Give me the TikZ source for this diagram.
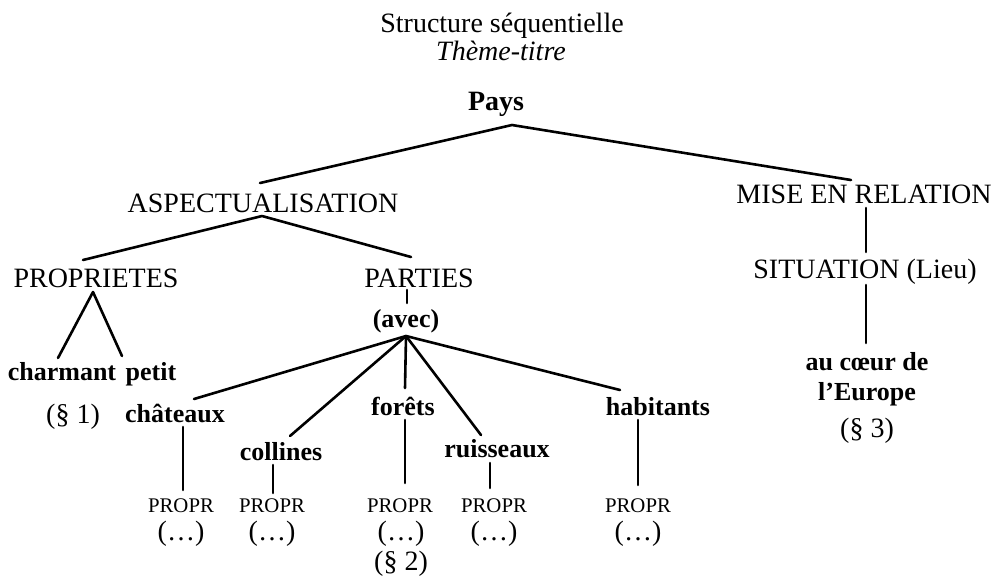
\documentclass[tikz,border=0pt]{standalone}
\usepackage{fontspec}
\setmainfont{Liberation Serif}
\begin{document}
\begin{tikzpicture}[x=0.5pt,y=-0.5pt,
  lbl/.style={anchor=base,inner sep=0pt,font=\fontsize{14}{16}\selectfont},
  bld/.style={anchor=base,inner sep=0pt,font=\fontsize{13}{15}\selectfont\bfseries},
  small/.style={anchor=base,inner sep=0pt,font=\fontsize{10.4}{12}\selectfont},
  edge/.style={line width=1.3pt,line cap=round,line join=round}]
\useasboundingbox (0,0) rectangle (1000,575);
% titles
\node[lbl] (title) at (502,32) {Structure séquentielle};
\node[lbl,font=\fontsize{14}{16}\selectfont\itshape] (theme) at (501,60) {Thème-titre};
\node[bld,font=\fontsize{14}{16}\selectfont\bfseries] (pays) at (496,110) {Pays};
% level 1
\node[lbl] (aspect) at (263,212) {ASPECTUALISATION};
\node[lbl] (mise) at (864,203) {MISE EN RELATION};
% level 2
\node[lbl] (propri) at (96,287) {PROPRIETES};
\node[lbl] (parties) at (419,287) {PARTIES};
\node[bld] (avec) at (406,327) {(avec)};
\node[lbl] (situation) at (865,278) {SITUATION (Lieu)};
% properties
\node[bld] (charmant) at (62,380) {charmant};
\node[bld] (petit) at (151,380) {petit};
\node[lbl] (s1) at (73,423) {(§ 1)};
% parts
\node[bld] (chateaux) at (175,422) {châteaux};
\node[bld] (collines) at (281,460) {collines};
\node[bld] (forets) at (403,415) {forêts};
\node[bld] (ruisseaux) at (497,457) {ruisseaux};
\node[bld] (habitants) at (658,415) {habitants};
% PROPR
\node[small] (p1) at (181,512) {PROPR};
\node[small] (p2) at (272,512) {PROPR};
\node[small] (p3) at (400,512) {PROPR};
\node[small] (p4) at (494,512) {PROPR};
\node[small] (p5) at (638,512) {PROPR};
\node[lbl] (d1) at (181,540) {(\dots)};
\node[lbl] (d2) at (272,540) {(\dots)};
\node[lbl] (d3) at (401,540) {(\dots)};
\node[lbl] (d4) at (494,540) {(\dots)};
\node[lbl] (d5) at (638,540) {(\dots)};
\node[lbl] (s2) at (401,570) {(§ 2)};
% situation
\node[bld] (coeur) at (867,370) {au cœur de};
\node[bld] (europe) at (867,400) {l’Europe};
\node[lbl] (s3) at (867,437) {(§ 3)};
% connectors
\draw[edge] ([shift={(-3,-29)}]aspect.base) -- ([shift={(16,15)}]pays.base) -- ([shift={(-13,-23)}]mise.base);
\draw[edge] ([shift={(-13,-27)}]propri.base) -- ([shift={(-1,4)}]aspect.base) -- ([shift={(-8,-30)}]parties.base);
\draw[edge] ([shift={(-12,3)}]parties.base) -- ([shift={(1,-24)}]avec.base);
\draw[edge] ([shift={(-4,-22)}]charmant.base) -- ([shift={(-3,5)}]propri.base) -- ([shift={(-29,-24)}]petit.base);
\draw[edge] ([shift={(0,9)}]avec.base) -- ([shift={(19,-23)}]chateaux.base);
\draw[edge] ([shift={(0,9)}]avec.base) -- ([shift={(9,-24)}]collines.base);
\draw[edge] ([shift={(0,9)}]avec.base) -- ([shift={(2,-27)}]forets.base);
\draw[edge] ([shift={(0,9)}]avec.base) -- ([shift={(-16,-22)}]ruisseaux.base);
\draw[edge] ([shift={(0,9)}]avec.base) -- ([shift={(-38,-25)}]habitants.base);
\draw[edge] ([shift={(8,5)}]chateaux.base) -- ([shift={(2,-22)}]p1.base);
\draw[edge] ([shift={(-8,5)}]collines.base) -- ([shift={(1,-19)}]p2.base);
\draw[edge] ([shift={(2,5)}]forets.base) -- ([shift={(5,-29)}]p3.base);
\draw[edge] ([shift={(-7,6)}]ruisseaux.base) -- ([shift={(-4,-24)}]p4.base);
\draw[edge] ([shift={(-20,5)}]habitants.base) -- ([shift={(0,-27)}]p5.base);
\draw[edge] ([shift={(2,5)}]mise.base) -- ([shift={(1,-26)}]situation.base);
\draw[edge] ([shift={(1,7)}]situation.base) -- ([shift={(-1,-27)}]coeur.base);
\end{tikzpicture}
\end{document}
